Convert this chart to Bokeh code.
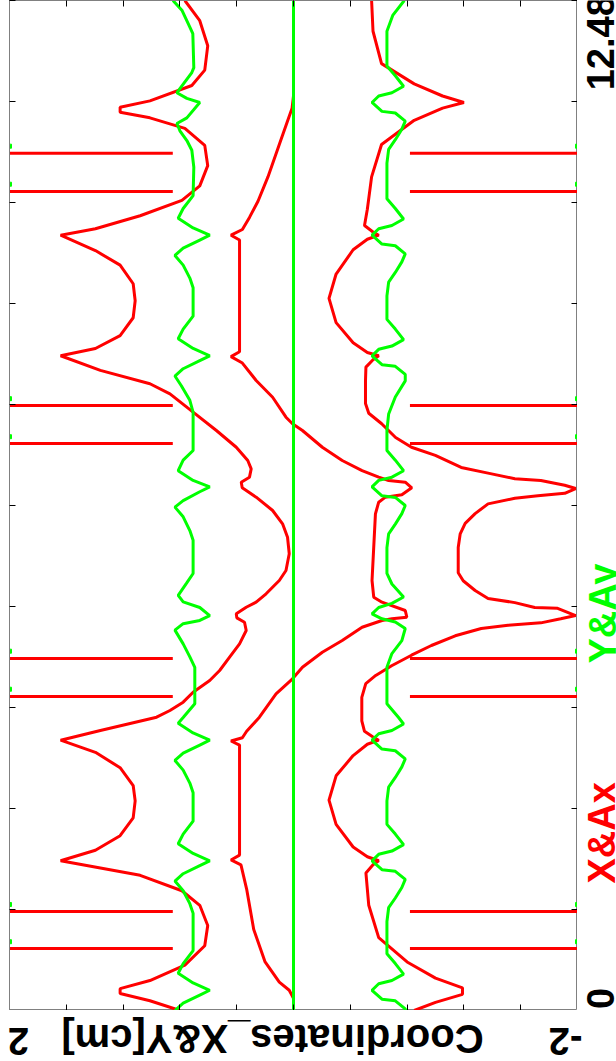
from bokeh.plotting import figure
from bokeh.models import Range1d, LinearAxis, FixedTicker, Label, CustomJSTickFormatter
from bokeh.layouts import row, column
from bokeh.embed import file_html
from bokeh.resources import INLINE

# ---------------- data (time t, coordinate v in cm) ----------------
T_END = 12.48
V_TICKS = [2.0, 1.6, 1.2, 0.8, 0.4, 0.0, -0.4, -0.8, -1.2, -1.6, -2.0]
T_TICKS = [0.0, 1.248, 2.496, 3.744, 4.992, 6.24, 7.488, 8.736, 9.984, 11.232, 12.48]
T_LABELS = ["0", "12.48"]
V_LABELS = ["2", "-2"]
Y_TITLE = "Coordinates_X&Y[cm]"
LEGEND = ["X&Ax", "Y&Ay"]

# constant green series (Y)
Y0_T = [0.0, 12.48]
Y0_V = [0.0, 0.0]

# red outer-left series
XL_T = [12.48, 12.23, 11.92, 11.62, 11.43, 11.24, 11.16, 11.10, 11.03, 10.90, 10.69, 10.44, 10.19, 10.01,
        9.82, 9.66, 9.58, 9.39, 9.21, 8.98, 8.77, 8.56, 8.34, 8.18, 8.09, 7.91,
        7.744, 7.620, 7.393, 7.167, 6.960, 6.796, 6.693, 6.590, 6.528, 6.459, 6.343, 6.178, 6.014, 5.848,
        5.643, 5.437, 5.313, 5.149, 5.045, 4.983, 4.902, 4.852, 4.798, 4.695, 4.531, 4.366, 4.201, 4.078,
        3.933, 3.810, 3.707, 3.624,
        3.46, 3.34, 3.19, 3.00, 2.78, 2.59, 2.38, 2.16, 1.98, 1.85, 1.67, 1.48, 1.30, 1.05, 0.80, 0.56,
        0.37, 0.27, 0.21, 0.12, 0.0]
XL_V = [0.765, 0.660, 0.604, 0.625, 0.716, 1.011, 1.221, 1.221, 1.011, 0.765, 0.625, 0.604, 0.660, 0.786,
        1.080, 1.395, 1.640, 1.395, 1.221, 1.129, 1.115, 1.129, 1.221, 1.395, 1.640, 1.360,
        1.011, 0.870, 0.707, 0.543, 0.403, 0.322, 0.298, 0.310, 0.368, 0.361, 0.263, 0.147, 0.077, 0.042,
        0.030, 0.053, 0.100, 0.193, 0.263, 0.333, 0.403, 0.399, 0.345, 0.333, 0.380, 0.450, 0.520, 0.590,
        0.707, 0.777, 0.870, 0.964,
        1.360, 1.640, 1.395, 1.221, 1.129, 1.115, 1.129, 1.221, 1.395, 1.640, 1.080, 0.786, 0.660, 0.604,
        0.625, 0.765, 1.011, 1.221, 1.221, 1.011, 0.800]

# red middle zig-zag series
XM_T = [12.48, 11.3, 11.15, 11.0, 10.7, 10.3, 10.0, 9.8, 9.65, 9.58, 9.52, 8.14, 8.08, 8.0,
        7.785, 7.578, 7.331, 7.250, 7.167, 6.960, 6.796, 6.672, 6.590, 6.549, 6.528, 6.459, 6.372, 6.343,
        6.281, 6.137, 5.725, 5.313, 5.107, 5.045, 4.943, 4.860, 4.840, 4.819, 4.736, 4.572, 4.427, 4.242,
        4.099, 3.913, 3.624,
        3.45, 3.37, 3.33, 3.28, 1.92, 1.86, 1.80, 1.5, 1.0, 0.6, 0.35, 0.25, 0.15, 0.0]
XM_V = [0.0, 0.0, 0.01, 0.04, 0.10, 0.18, 0.25, 0.31, 0.36, 0.44, 0.38, 0.38, 0.44, 0.36,
        0.263, 0.147, 0.053, 0.007, -0.063, -0.203, -0.343, -0.483, -0.600, -0.670, -0.787, -0.833, -0.763,
        -0.647, -0.600, -0.577, -0.565, -0.553, -0.565, -0.623, -0.787, -0.798, -0.693, -0.623, -0.483,
        -0.343, -0.203, -0.063, 0.007, 0.123, 0.240,
        0.33, 0.36, 0.44, 0.38, 0.38, 0.44, 0.37, 0.33, 0.28, 0.20, 0.10, 0.03, 0.0, 0.0]

# red outer-right series
XR_T = [12.48, 12.1, 11.7, 11.45, 11.3, 11.22, 11.15, 11.0, 10.7, 10.3, 9.9, 9.7, 9.62, 9.58, 9.53, 9.4,
        9.1, 8.8, 8.5, 8.25, 8.13, 8.09, 8.04, 7.95,
        7.78, 7.50, 7.38, 7.25, 7.08, 6.96, 6.86, 6.71, 6.64, 6.57, 6.55, 6.49, 6.45, 6.39, 6.36, 6.33,
        6.26, 6.14, 6.02, 5.89, 5.72, 5.41, 5.31, 5.19, 5.09, 5.04, 4.98, 4.97, 4.88, 4.84, 4.79, 4.76,
        4.72, 4.63, 4.51, 4.39, 4.26, 4.14, 4.04, 3.87, 3.58,
        3.45, 3.38, 3.34, 3.29, 3.15, 2.9, 2.6, 2.3, 2.02, 1.9, 1.85, 1.80, 1.7, 1.3, 0.9, 0.6, 0.4, 0.28,
        0.2, 0.1, 0.0]
XR_V = [-0.55, -0.56, -0.62, -0.85, -1.05, -1.20, -1.05, -0.85, -0.62, -0.55, -0.52, -0.50, -0.56, -0.60,
        -0.52, -0.42, -0.30, -0.25, -0.30, -0.42, -0.52, -0.60, -0.56, -0.51,
        -0.507, -0.507, -0.530, -0.621, -0.719, -0.831, -0.999, -1.181, -1.370, -1.559, -1.742, -1.910,
        -1.987, -1.910, -1.721, -1.559, -1.370, -1.279, -1.209, -1.174, -1.160, -1.160, -1.195, -1.279,
        -1.370, -1.559, -1.699, -1.860, -1.987, -1.882, -1.742, -1.511, -1.322, -1.139, -0.971, -0.831,
        -0.691, -0.579, -0.509, -0.481, -0.481,
        -0.50, -0.56, -0.60, -0.52, -0.42, -0.30, -0.25, -0.30, -0.42, -0.52, -0.60, -0.56, -0.51, -0.53,
        -0.60, -0.80, -1.00, -1.19, -1.19, -1.00, -0.85]

# green wavy series (Ay), left branch
AYL_T = [12.48, 12.36, 12.15, 12.07, 11.65, 11.59, 11.39, 11.34, 11.27, 11.22, 11.03, 10.96, 10.87, 10.75,
         10.63, 10.42, 10.07, 9.91, 9.79, 9.67, 9.58, 9.52, 9.42, 9.33, 9.21, 9.05, 8.93,
         8.58, 8.42, 8.30, 8.18, 8.09, 8.03, 7.93, 7.84, 7.72, 7.54, 7.39,
         6.92, 6.80, 6.67, 6.55, 6.47, 6.41, 6.30, 6.22, 6.10, 5.93, 5.81, 5.40, 5.28,
         5.13, 5.05, 4.98, 4.88, 4.82, 4.78, 4.70, 4.53, 4.37, 4.24, 3.79, 3.62,
         3.55, 3.43, 3.34, 3.28, 3.18, 3.09, 2.97, 2.81, 2.69,
         2.34, 2.18, 2.06, 1.94, 1.85, 1.79, 1.69, 1.60, 1.48, 1.32, 1.20,
         0.74, 0.58, 0.46, 0.34, 0.25, 0.19, 0.09, 0.0]
AYL_V = [0.849, 0.786, 0.730, 0.709, 0.702, 0.716, 0.800, 0.821, 0.751, 0.660, 0.751, 0.821, 0.800, 0.751,
         0.716, 0.702, 0.707, 0.777, 0.812, 0.707, 0.590, 0.660, 0.777, 0.835, 0.777, 0.730, 0.707,
         0.707, 0.777, 0.812, 0.707, 0.590, 0.660, 0.777, 0.835, 0.790, 0.730, 0.707,
         0.707, 0.777, 0.812, 0.707, 0.590, 0.660, 0.777, 0.835, 0.777, 0.730, 0.707, 0.707, 0.753,
         0.812, 0.777, 0.660, 0.590, 0.660, 0.777, 0.835, 0.777, 0.730, 0.695, 0.695, 0.777,
         0.812, 0.707, 0.590, 0.660, 0.777, 0.835, 0.777, 0.730, 0.707,
         0.707, 0.777, 0.812, 0.707, 0.590, 0.660, 0.777, 0.835, 0.777, 0.730, 0.707,
         0.707, 0.777, 0.812, 0.707, 0.590, 0.660, 0.777, 0.835]

# green wavy series (Ay), right branch
AYR_T = [12.48, 12.3, 12.1, 11.67, 11.55, 11.42, 11.34, 11.30, 11.22, 11.11, 11.09, 10.99, 10.89, 10.76,
         10.64, 10.47, 10.03, 9.91, 9.78, 9.70, 9.66, 9.58, 9.47, 9.45, 9.35, 9.25, 9.12, 9.00, 8.83,
         8.54, 8.42, 8.29, 8.21, 8.17, 8.09, 7.98, 7.96, 7.86,
         7.78, 7.58, 7.37, 7.17, 6.92, 6.80, 6.67, 6.59, 6.55, 6.47, 6.36, 6.34, 6.24, 6.14, 6.01, 5.89,
         5.72, 5.40, 5.27, 5.11, 5.03, 4.98, 4.90, 4.84, 4.80, 4.72, 4.57, 4.41, 4.24, 3.79, 3.62,
         3.54, 3.46, 3.42, 3.34, 3.23, 3.21, 3.11, 3.01, 2.88, 2.76, 2.59,
         2.30, 2.18, 2.05, 1.97, 1.93, 1.85, 1.74, 1.72, 1.62, 1.52, 1.39, 1.27, 1.10,
         0.70, 0.58, 0.45, 0.37, 0.33, 0.25, 0.14, 0.12, 0.02, 0.0]
AYR_V = [-0.78, -0.70, -0.658, -0.658, -0.717, -0.775, -0.693, -0.600, -0.553, -0.623, -0.717, -0.787,
         -0.763, -0.717, -0.670, -0.658, -0.658, -0.717, -0.775, -0.693, -0.600, -0.553, -0.623, -0.717,
         -0.787, -0.763, -0.717, -0.670, -0.658,
         -0.658, -0.717, -0.775, -0.693, -0.600, -0.553, -0.623, -0.717, -0.787,
         -0.787, -0.717, -0.670, -0.658, -0.658, -0.717, -0.775, -0.693, -0.600, -0.553, -0.623, -0.717,
         -0.787, -0.763, -0.717, -0.670, -0.658, -0.658, -0.693, -0.775, -0.693, -0.600, -0.553, -0.623,
         -0.717, -0.787, -0.763, -0.693, -0.658, -0.658, -0.740,
         -0.775, -0.693, -0.600, -0.553, -0.623, -0.717, -0.787, -0.763, -0.717, -0.670, -0.658,
         -0.658, -0.717, -0.775, -0.693, -0.600, -0.553, -0.623, -0.717, -0.787, -0.763, -0.717, -0.670,
         -0.658,
         -0.658, -0.717, -0.775, -0.693, -0.600, -0.553, -0.623, -0.717, -0.787, -0.79]

# vertical excursions of Ax (times) and their inner ends
SPIKE_T = [10.593, 10.120, 7.476, 7.006, 4.349, 3.880, 1.223, 0.766]
SPIKE_IN_POS = 0.85
SPIKE_IN_NEG = -0.82
V_MAX = 2.0
V_MIN = -2.0
DOT_T = [10.68, 10.21, 7.56, 7.09, 4.44, 3.97, 1.31, 0.85]

RED = "#ff0000"
GREEN = "#00ff00"
FONT = "Liberation Sans"
PI = 3.141592653589793

# ---------------- main plot ----------------
t_range = Range1d(0, T_END)
p = figure(width=577, height=1010, output_backend="svg", toolbar_location=None,
           x_range=Range1d(2, -2), y_range=t_range,
           x_axis_location=None, y_axis_location=None,
           min_border_left=9, min_border_top=0, min_border_right=0, min_border_bottom=0)
p.grid.visible = False
p.outline_line_color = "#808080"
p.outline_line_width = 1
p.background_fill_color = "white"
p.border_fill_color = "white"

blank = CustomJSTickFormatter(code="return ''")


def mk_axis(ticks, color):
    return LinearAxis(ticker=FixedTicker(ticks=ticks), formatter=blank, major_label_text_font_size="0px",
                      major_tick_in=6, major_tick_out=0, minor_tick_in=0, minor_tick_out=0,
                      major_label_standoff=0, axis_line_color=color, axis_line_width=1,
                      major_tick_line_color="black")


p.add_layout(mk_axis(T_TICKS, "black"), "right")
p.add_layout(mk_axis(T_TICKS, "#808080"), "left")
p.add_layout(mk_axis(V_TICKS, "black"), "below")
p.add_layout(mk_axis(V_TICKS, "#808080"), "above")

LW = 3
# red series first, green series drawn over them
p.line(XL_V, XL_T, color=RED, line_width=LW)
p.line(XM_V, XM_T, color=RED, line_width=LW)
p.line(XR_V, XR_T, color=RED, line_width=LW)
n = len(SPIKE_T)
p.segment(x0=[SPIKE_IN_POS] * n, x1=[V_MAX] * n, y0=SPIKE_T, y1=SPIKE_T, color=RED, line_width=LW)
p.segment(x0=[SPIKE_IN_NEG] * n, x1=[V_MIN] * n, y0=SPIKE_T, y1=SPIKE_T, color=RED, line_width=LW)

p.line(AYL_V, AYL_T, color=GREEN, line_width=LW)
p.line(AYR_V, AYR_T, color=GREEN, line_width=LW)
p.line(Y0_V, Y0_T, color=GREEN, line_width=LW)
p.scatter([V_MAX] * n, DOT_T, marker="square", size=4, color=GREEN)
p.scatter([V_MIN] * n, DOT_T, marker="square", size=4, color=GREEN)

# ---------------- right strip: time end labels and legend ----------------
side = figure(width=39, height=1010, output_backend="svg", toolbar_location=None,
              x_range=Range1d(0, 39), y_range=t_range,
              x_axis_location=None, y_axis_location=None,
              min_border_left=0, min_border_top=0, min_border_right=0, min_border_bottom=0)
side.grid.visible = False
side.outline_line_color = None
side.background_fill_color = "white"
side.border_fill_color = "white"


def lab(fig, text, x, y, angle, align, color="black", size="38px"):
    fig.add_layout(Label(x=x, y=y, text=text, angle=angle, text_align=align, text_baseline="middle",
                         text_font=FONT, text_font_size=size, text_font_style="bold",
                         text_color=color))


lab(side, T_LABELS[0], 23, 0.148, PI / 2, "center")
lab(side, T_LABELS[1], 23, 11.37, PI / 2, "left")
lab(side, LEGEND[0], 24, 1.569, PI / 2, "left", color=RED)
lab(side, LEGEND[1], 25, 4.288, PI / 2, "left", color=GREEN)

# ---------------- bottom strip: value end labels and axis title ----------------
bottom = figure(width=616, height=51, output_backend="svg", toolbar_location=None,
                x_range=Range1d(0, 616), y_range=Range1d(0, 51),
                x_axis_location=None, y_axis_location=None,
                min_border_left=0, min_border_top=0, min_border_right=0, min_border_bottom=0)
bottom.grid.visible = False
bottom.outline_line_color = None
bottom.background_fill_color = "white"
bottom.border_fill_color = "white"

lab(bottom, V_LABELS[0], 18, 20, PI, "center")
lab(bottom, V_LABELS[1], 565, 20, PI, "center")
lab(bottom, Y_TITLE, 272, 23, PI, "center", size="40px")

layout = column(row(p, side), bottom)
open("out.html", "w").write(file_html(layout, INLINE))
